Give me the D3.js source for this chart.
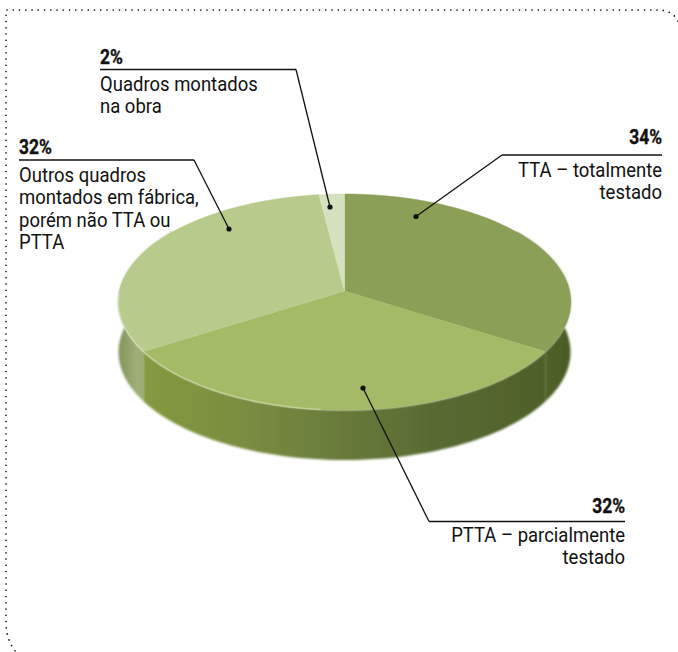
<!DOCTYPE html>
<html><head><meta charset="utf-8">
<script src="https://cdn.jsdelivr.net/npm/d3@7"></script>
<style>html,body{margin:0;padding:0;background:#fff}svg{display:block}
text{font-family:"Roboto",sans-serif;fill:#111}</style>
</head><body><svg id="c" width="678" height="652"></svg>
<script>
const categories = ["TTA – totalmente testado","PTTA – parcialmente testado","Outros quadros montados em fábrica, porém não TTA ou PTTA","Quadros montados na obra"];
const values = [34,32,32,2];
const valueLabels = ["34%","32%","32%","2%"];
const topColors = ["#8c9f57","#a4ba66","#b9cb8c","#d6e2bf"];
const wallStops = [
  [["0%","#546729"],["100%","#4a5b25"]],
  [["0%","#85993f"],["25%","#7a8d41"],["50%","#687a3a"],["70%","#5a6c33"],["100%","#4e6029"]],
  [["0%","#82935a"],["70%","#a0ae78"],["100%","#9aa972"]]
];
const callouts = [
  {i:0,anchor:"end",x:662,x0:502,x1:662,rule:155,pct:144,lines:["TTA – totalmente","testado"],first:177,dot:[416,216.5],elbow:502},
  {i:1,anchor:"end",x:625,x0:429,x1:625,rule:521.5,pct:513,lines:["PTTA – parcialmente","testado"],first:542,dot:[363,388],elbow:429},
  {i:2,anchor:"start",x:19,x0:19,x1:194,rule:160,pct:154,lines:["Outros quadros","montados em fábrica,","porém não TTA ou","PTTA"],first:182,dot:[229,229],elbow:194},
  {i:3,anchor:"start",x:100,x0:100,x1:296,rule:69.5,pct:64,lines:["Quadros montados","na obra"],first:91,dot:[330,207],elbow:296}
];
const svg = d3.select("#c");
const defs = svg.append("defs");
defs.append("filter").attr("id","soft").append("feGaussianBlur").attr("stdDeviation",0.9);
defs.append("filter").attr("id","softer").append("feGaussianBlur").attr("stdDeviation",0.45);

// perspective projection of the disc
const cx=344.5, cy=291, k=0.102, ay=106.9, R=224.8, depth=50;
const project=(t,r=1,dy=0)=>{const u=r*Math.sin(t),v=-r*Math.cos(t),d=1-k*v;return [cx+R*u/d,cy+ay*v/d+dy];};
const arcs=d3.pie().sort(null).value(d=>d)(values);
const sample=(a,b,dy=0)=>d3.range(0,61).map(j=>project(a+(b-a)*j/60,1,dy));
const line=d3.line();

// border
svg.append("path").attr("d","M678,21 Q672,10 658,10 L6,10 L6,622 Q6,640 16,652")
  .attr("fill","none").attr("stroke","#111").attr("stroke-width",1.7)
  .attr("stroke-linecap","round").attr("stroke-dasharray","0 6.25");

// walls
const xs=[[525,572],[143,545],[117,146]];
wallStops.forEach((st,i)=>{const g=defs.append("linearGradient").attr("id","w"+i)
  .attr("gradientUnits","userSpaceOnUse").attr("x1",xs[i][0]).attr("x2",xs[i][1]).attr("y1",0).attr("y2",0);
  st.forEach(s=>g.append("stop").attr("offset",s[0]).attr("stop-color",s[1]));});
const lim=[Math.PI*0.3,Math.PI*1.7];
const walls=svg.append("g").attr("filter","url(#soft)");
[0,1,2].forEach(i=>{
  const a=Math.max(arcs[i].startAngle,lim[0]),b=Math.min(arcs[i].endAngle,lim[1]);
  const pts=sample(a,b,0).concat(sample(a,b,depth).reverse());
  walls.append("path").attr("d",line(pts)+"Z").attr("fill",`url(#w${i})`);
});

// top face
const topG=svg.append("g").attr("filter","url(#softer)");
arcs.forEach((d,i)=>{
  const pts=[project(0,0)].concat(sample(d.startAngle,d.endAngle));
  topG.append("path").attr("d",line(pts)+"Z").attr("fill",topColors[i]).attr("stroke",topColors[i]).attr("stroke-width",0.5);
});
// pale rim on the lit front edge
topG.append("path").attr("d",line(sample(arcs[1].startAngle+1.1,arcs[2].startAngle)))
  .attr("fill","none").attr("stroke","#c6d69c").attr("stroke-width",1.4).attr("opacity",.8);
topG.append("path").attr("d",line(sample(arcs[2].startAngle,arcs[2].startAngle+0.55)))
  .attr("fill","none").attr("stroke","#d3dfb5").attr("stroke-width",1.4).attr("opacity",.8);

// callouts
const ink="#111";
const sx=0.925;
callouts.forEach(c=>{
  const g=svg.append("g");
  g.append("path").attr("d",`M${c.x0},${c.rule}H${c.x1}`).attr("stroke",ink).attr("stroke-width",1.3).attr("fill","none");
  g.append("path").attr("d",`M${c.elbow},${c.rule}L${c.dot[0]},${c.dot[1]}`).attr("stroke",ink).attr("stroke-width",1.3).attr("fill","none");
  g.append("circle").attr("cx",c.dot[0]).attr("cy",c.dot[1]).attr("r",2.6).attr("fill",ink);
  g.append("text").attr("transform",`translate(${c.x},${c.pct}) scale(0.87,1)`).attr("text-anchor",c.anchor)
    .attr("font-size",20).attr("font-weight",700).attr("stroke","#111").attr("stroke-width",0.35).text(valueLabels[c.i]);
  c.lines.forEach((t,j)=>g.append("text").attr("transform",`translate(${c.x},${c.first+j*22.3}) scale(${sx},1)`)
    .attr("text-anchor",c.anchor).attr("font-size",20).text(t));
});
</script></body></html>
